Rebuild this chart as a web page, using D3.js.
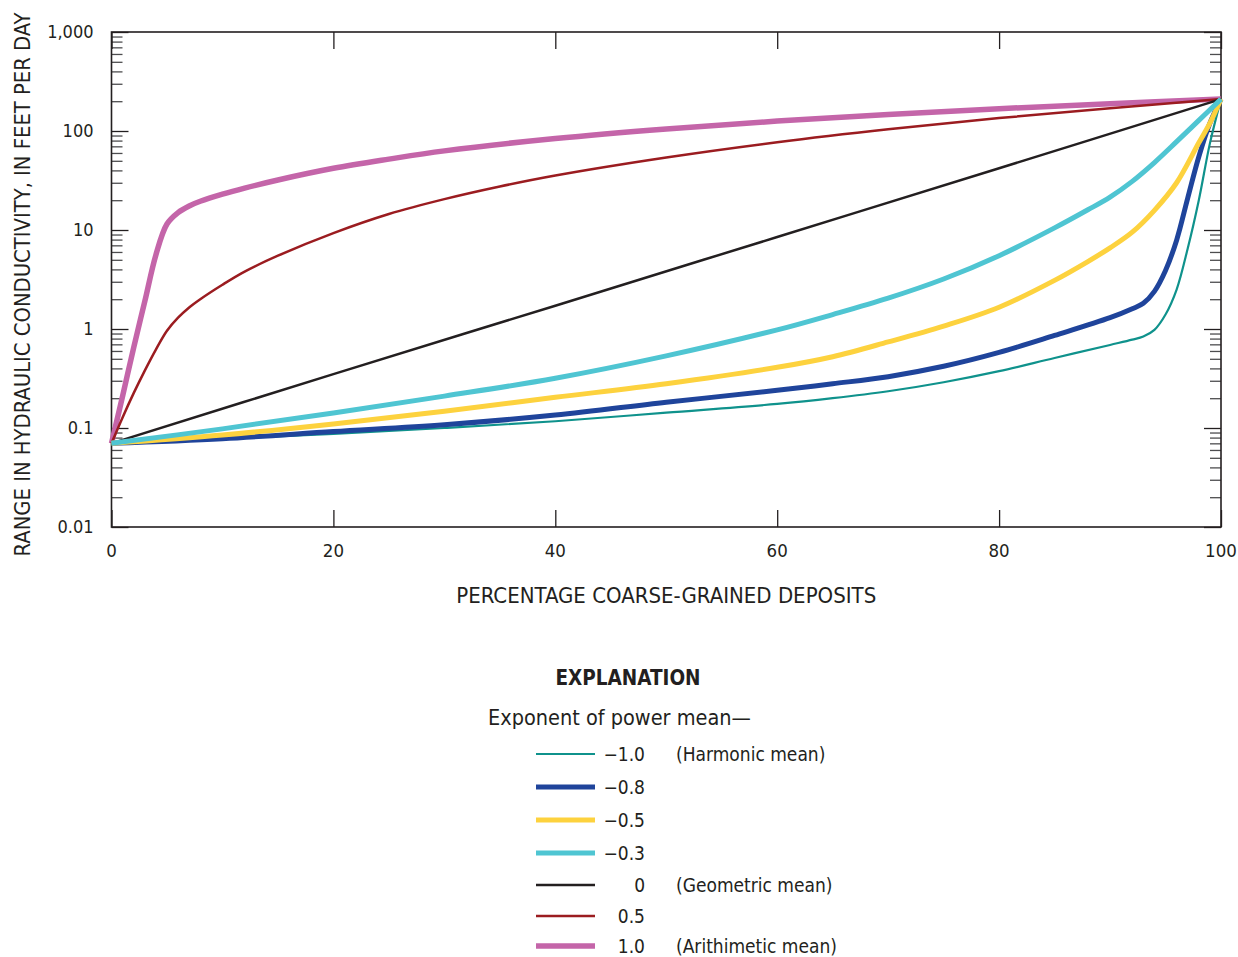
<!DOCTYPE html>
<html>
<head>
<meta charset="utf-8">
<script src="https://cdn.jsdelivr.net/npm/d3@7"></script>
<style>
  html, body { margin: 0; padding: 0; background: #fff; }
  svg { display: block; }
  text { font-family: "Liberation Sans Narrow", "DejaVu Sans Condensed", "Roboto", sans-serif; fill: #231f20; }
</style>
</head>
<body>
<svg id="chart" width="1238" height="957"></svg>
<script>
// ---------------- DATA ----------------
const xTicks = [0, 20, 40, 60, 80, 100];
const xTickLabels = ["0", "20", "40", "60", "80", "100"];
const yTicks = [0.01, 0.1, 1, 10, 100, 1000];
const yTickLabels = ["0.01", "0.1", "1", "10", "100", "1,000"];

const exponents = ["\u22121.0", "\u22120.8", "\u22120.5", "\u22120.3", "0", "0.5", "1.0"];
const meanNames = ["(Harmonic mean)", "", "", "", "(Geometric mean)", "", "(Arithimetic mean)"];

// exponent -1.0 (harmonic)
const pctHarm = [0, 10, 20, 30, 40, 50, 60, 65, 70, 75, 80, 85, 90, 92, 93, 94, 95, 96, 97, 98, 99, 100];
const kHarm   = [0.07, 0.078, 0.087, 0.1, 0.117, 0.143, 0.175, 0.2, 0.235, 0.29, 0.375, 0.51, 0.69, 0.78, 0.84, 0.98, 1.4, 2.5, 6.5, 20, 75, 210];
// exponent -0.8
const pctM08 = [0, 10, 20, 30, 40, 50, 60, 65, 70, 75, 80, 85, 90, 92, 93, 94, 95, 96, 97, 98, 99, 100];
const kM08   = [0.07, 0.078, 0.092, 0.108, 0.135, 0.182, 0.24, 0.28, 0.33, 0.42, 0.58, 0.86, 1.3, 1.6, 1.82, 2.4, 3.9, 7.9, 21, 55, 120, 210];
// exponent -0.5
const pctM05 = [0, 10, 20, 30, 40, 50, 60, 65, 70, 75, 80, 85, 88, 90, 92, 94, 96, 98, 99, 100];
const kM05   = [0.07, 0.085, 0.11, 0.148, 0.204, 0.28, 0.41, 0.525, 0.74, 1.07, 1.66, 3.1, 4.8, 6.6, 9.5, 15.8, 30, 76, 120, 210];
// exponent -0.3
const pctM03 = [0, 10, 20, 30, 40, 50, 60, 65, 70, 75, 80, 85, 88, 90, 92, 94, 96, 98, 100];
const kM03   = [0.07, 0.098, 0.142, 0.21, 0.318, 0.535, 0.98, 1.4, 2.05, 3.2, 5.5, 10.5, 16, 21.5, 31, 48, 78, 128, 210];
// exponent 0 (geometric)
const pctGeo = [0, 20, 40, 60, 80, 100];
const kGeo   = [0.07, 0.35, 1.72, 8.5, 42, 210];
// exponent 0.5
const pctP05 = [0, 1, 2, 3, 4, 5, 6, 7, 8, 10, 12, 15, 20, 25, 30, 35, 40, 50, 60, 70, 80, 90, 100];
const kP05   = [0.07, 0.128, 0.225, 0.38, 0.62, 0.96, 1.3, 1.65, 2.0, 2.8, 3.8, 5.5, 9.3, 14.5, 20.5, 27.5, 35.5, 54, 77, 104, 135, 170, 210];
// exponent 1.0 (arithmetic)
const pctArith = [0, 1, 2, 3, 4, 5, 6, 7, 8, 10, 12, 15, 20, 25, 30, 40, 50, 60, 70, 80, 90, 100];
const kArith   = [0.07, 0.21, 0.65, 1.9, 5.6, 11.5, 15, 17.5, 19.5, 23, 26.5, 32, 42, 52, 63, 84, 105, 126, 147, 168, 189, 210];

const seriesX = [pctHarm, pctM08, pctM05, pctM03, pctGeo, pctP05, pctArith];
const seriesY = [kHarm, kM08, kM05, kM03, kGeo, kP05, kArith];
const colors = ["#0f928c", "#1f449b", "#fdd23e", "#4fc5d2", "#231f20", "#9b1c20", "#c465a9"];
const widths = [2.2, 5, 5, 5, 2.5, 2.5, 5.5];
const drawOrder = [6, 5, 4, 0, 1, 2, 3];

// ---------------- LAYOUT ----------------
const svg = d3.select("#chart");
const L = 111.5, R = 1221, T = 32, B = 527;

const x = d3.scaleLinear().domain([0, 100]).range([L, R]);
const y = d3.scaleLog().domain([0.01, 1000]).range([B, T]);

const minor = [];
for (let e = -2; e < 3; e++) {
  for (let m = 2; m <= 9; m++) minor.push(m * Math.pow(10, e));
}

const axisColor = "#231f20";

const leftMajor = d3.axisRight(y).tickValues(yTicks).tickSize(17).tickFormat("");
const leftMinor = d3.axisRight(y).tickValues(minor).tickSize(11).tickFormat("");
const gL1 = svg.append("g").attr("transform", `translate(${L},0)`).call(leftMinor);
const gL2 = svg.append("g").attr("transform", `translate(${L},0)`).call(leftMajor);
const rightMajor = d3.axisLeft(y).tickValues(yTicks).tickSize(17).tickFormat("");
const rightMinor = d3.axisLeft(y).tickValues(minor).tickSize(11).tickFormat("");
const gR1 = svg.append("g").attr("transform", `translate(${R},0)`).call(rightMinor);
const gR2 = svg.append("g").attr("transform", `translate(${R},0)`).call(rightMajor);
const bottomAxis = d3.axisTop(x).tickValues(xTicks).tickSize(17).tickFormat("");
const topAxis = d3.axisBottom(x).tickValues(xTicks).tickSize(17).tickFormat("");
const gB = svg.append("g").attr("transform", `translate(0,${B})`).call(bottomAxis);
const gT = svg.append("g").attr("transform", `translate(0,${T})`).call(topAxis);

[gL1, gR1].forEach(g => g.selectAll("line").attr("stroke", "#4d4d4f").attr("stroke-width", 1.3));
[gL2, gR2, gB, gT].forEach(g => g.selectAll("line").attr("stroke", axisColor).attr("stroke-width", 1.3));
[gL1, gL2, gR1, gR2, gB, gT].forEach(g => g.select(".domain").remove());

svg.append("rect").attr("x", L).attr("y", T).attr("width", R - L).attr("height", B - T)
  .attr("fill", "none").attr("stroke", axisColor).attr("stroke-width", 1.6);

svg.append("g").selectAll("text").data(yTicks).join("text")
  .attr("x", L - 18).attr("y", d => y(d)).attr("dy", "0.35em")
  .attr("text-anchor", "end").attr("font-size", 18)
  .text((d, i) => yTickLabels[i]);
svg.append("g").selectAll("text").data(xTicks).join("text")
  .attr("x", d => x(d)).attr("y", B + 24).attr("dy", "0.35em")
  .attr("text-anchor", "middle").attr("font-size", 18.5)
  .text((d, i) => xTickLabels[i]);

svg.append("text").attr("x", (L + R) / 2).attr("y", 595).attr("dy", "0.35em")
  .attr("text-anchor", "middle").attr("font-size", 22)
  .text("PERCENTAGE COARSE-GRAINED DEPOSITS");
svg.append("text").attr("transform", `translate(22,${(T + 555) / 2 - 9}) rotate(-90)`)
  .attr("dy", "0.35em").attr("text-anchor", "middle").attr("font-size", 21.8)
  .text("RANGE IN HYDRAULIC CONDUCTIVITY, IN FEET PER DAY");

const line = d3.line()
  .x(d => x(d[0])).y(d => y(d[1]))
  .curve(d3.curveCatmullRom.alpha(0.5));
const gLines = svg.append("g");
drawOrder.forEach(i => {
  const pts = seriesX[i].map((px, j) => [px, seriesY[i][j]]);
  gLines.append("path").datum(pts)
    .attr("d", line)
    .attr("fill", "none")
    .attr("stroke", colors[i])
    .attr("stroke-width", widths[i])
    .attr("stroke-linejoin", "round")
    .attr("stroke-linecap", "butt");
});

svg.append("text").attr("x", 628).attr("y", 678).attr("dy", "0.35em")
  .attr("text-anchor", "middle").attr("font-size", 20.5).attr("font-weight", "bold")
  .text("EXPLANATION");
svg.append("text").attr("x", 488).attr("y", 717).attr("dy", "0.35em")
  .attr("font-size", 21.5).text("Exponent of power mean\u2014");

const legendY = [754, 787, 820, 853, 885, 916, 946];
const lg = svg.append("g");
exponents.forEach((lab, i) => {
  lg.append("line").attr("x1", 536).attr("x2", 595).attr("y1", legendY[i]).attr("y2", legendY[i])
    .attr("stroke", colors[i]).attr("stroke-width", widths[i]);
  lg.append("text").attr("x", 645).attr("y", legendY[i]).attr("dy", "0.35em")
    .attr("text-anchor", "end").attr("font-size", 19).text(lab);
  if (meanNames[i]) {
    lg.append("text").attr("x", 676).attr("y", legendY[i]).attr("dy", "0.35em")
      .attr("font-size", 19).text(meanNames[i]);
  }
});
</script>
</body>
</html>
